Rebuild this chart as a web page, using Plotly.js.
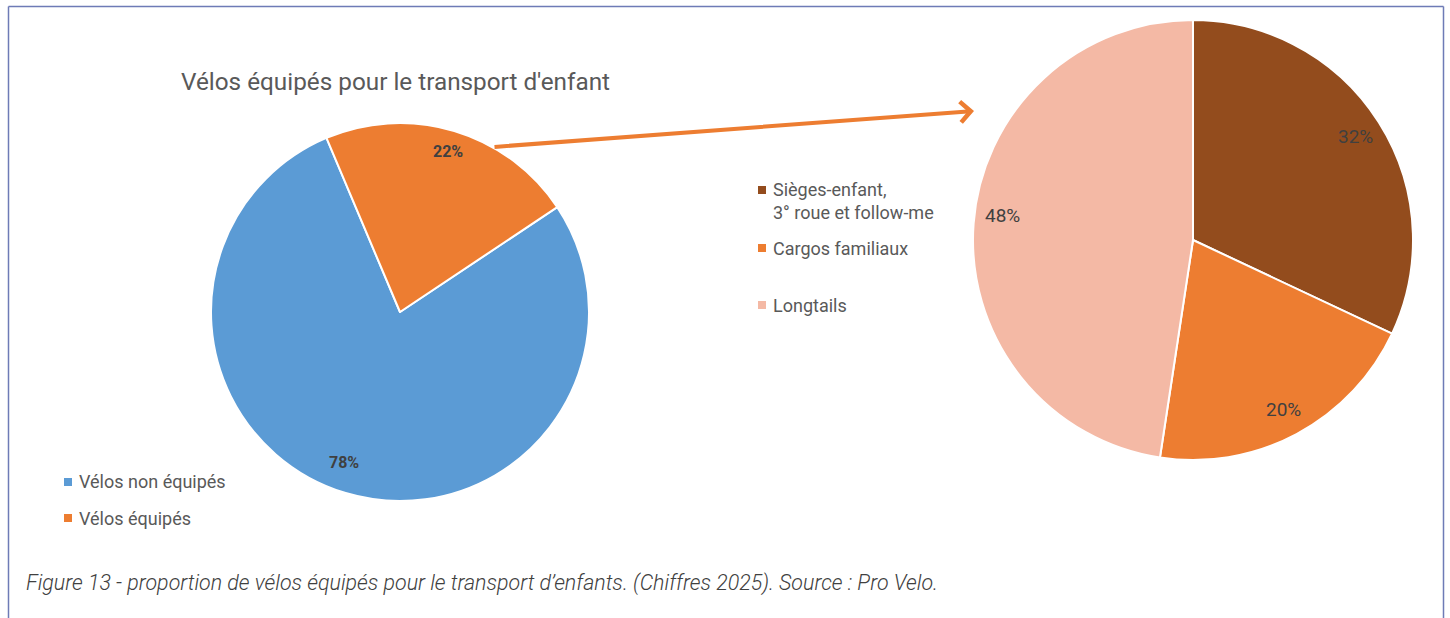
<!DOCTYPE html>
<html>
<head>
<meta charset="utf-8">
<script src="https://cdn.plot.ly/plotly-3.0.1.min.js"></script>
<style>html,body{margin:0;padding:0;background:#fff}#chart{width:1450px;height:618px}</style>
</head>
<body>
<div id="chart"></div>
<script>
// ---- data ----
const chartTitle = "Vélos équipés pour le transport d'enfant";
const caption = "Figure 13 - proportion de vélos équipés pour le transport d’enfants. (Chiffres 2025). Source : Pro Velo.";
const mainLabels = ['Vélos non équipés', 'Vélos équipés'];
const mainValues = [78, 22];
const mainColors = ['#5B9BD5', '#ED7D31'];
const subLabels = ['Sièges-enfant,<br>3° roue et follow-me', 'Cargos familiaux', 'Longtails'];
const subValues = [32, 20.4, 47.6];
const subColors = ['#934C1D', '#ED7D31', '#F4B9A5'];

// ---- layout helpers ----
const W = 1450, H = 618;
const px = x => x / W;
const py = y => 1 - y / H;

const mainPie = {cx: 400, cy: 312, r: 189, rotation: 56.3};
const subPie = {cx: 1193, cy: 240, r: 220, rotation: 0};

function domainOf(p) {
  return {x: [px(p.cx - p.r), px(p.cx + p.r)], y: [py(p.cy + p.r), py(p.cy - p.r)]};
}

const traces = [
  {
    type: 'pie', values: mainValues, labels: mainLabels, sort: false, direction: 'clockwise',
    rotation: mainPie.rotation, domain: domainOf(mainPie),
    marker: {colors: mainColors, line: {color: '#ffffff', width: 2}},
    textinfo: 'none', showlegend: false, hoverinfo: 'label+percent'
  },
  {
    type: 'pie', values: subValues, labels: subLabels, sort: false, direction: 'clockwise',
    rotation: subPie.rotation, domain: domainOf(subPie),
    marker: {colors: subColors, line: {color: '#ffffff', width: 2}},
    textinfo: 'none', showlegend: false, hoverinfo: 'label+percent'
  }
];

// percentage labels placed along each slice's mid-angle
function sliceLabels(values, pie, fracs, font, angShift) {
  const tot = values.reduce((a, b) => a + b, 0);
  let ang = pie.rotation;
  return values.map((v, i) => {
    const span = v / tot * 360;
    const mid = (ang + span / 2 + angShift[i]) * Math.PI / 180;
    ang += span;
    const x = pie.cx + fracs[i] * pie.r * Math.sin(mid);
    const y = pie.cy - fracs[i] * pie.r * Math.cos(mid);
    return {xref: 'paper', yref: 'paper', x: px(x), y: py(y), xanchor: 'center', yanchor: 'middle',
      text: Math.round(v / tot * 100) + '%', showarrow: false, font: font};
  });
}

const annotations = [];
annotations.push(...sliceLabels(mainValues, mainPie, [0.85, 0.885],
  {family: 'Roboto, sans-serif', size: 16, color: '#404040', weight: 700}, [3.6, 0]));
annotations.push(...sliceLabels(subValues, subPie, [0.875, 0.875, 0.875],
  {family: 'Roboto, sans-serif', size: 19, color: '#404040'}, [0, 0, 3]));

// title
annotations.push({xref: 'paper', yref: 'paper', x: px(179), y: py(82), xanchor: 'left', yanchor: 'middle',
  text: chartTitle, showarrow: false, font: {family: 'Roboto, sans-serif', size: 24.3, color: '#595959'}});

// caption
annotations.push({xref: 'paper', yref: 'paper', x: px(24), y: py(583), xanchor: 'left', yanchor: 'middle',
  text: '<i>' + caption + '</i>', showarrow: false,
  font: {family: 'Roboto, sans-serif', size: 21.4, color: '#404040', weight: 300}});

// arrow from the small slice to the detail pie
annotations.push({xref: 'paper', yref: 'paper', x: px(974), y: py(111), ax: 493 - 974, ay: 147 - 111,
  axref: 'pixel', ayref: 'pixel', text: '', showarrow: true, arrowhead: 4, arrowsize: 1, arrowwidth: 4,
  arrowcolor: '#ED7D31'});

// legends
const shapes = [];
function legend(labels, colors, markerX, ys, markerYs) {
  labels.forEach((lab, i) => {
    annotations.push({xref: 'paper', yref: 'paper', x: px(markerX + 9), y: py(ys[i]), xanchor: 'left',
      yanchor: 'middle', align: 'left', text: lab, showarrow: false,
      font: {family: 'Roboto, sans-serif', size: 18, color: '#595959'}});
    const my = markerYs[i];
    shapes.push({type: 'rect', xref: 'paper', yref: 'paper', x0: px(markerX - 4), x1: px(markerX + 4),
      y0: py(my + 4), y1: py(my - 4), fillcolor: colors[i], line: {width: 0}});
  });
}
legend(mainLabels, mainColors, 68, [482, 518], [482, 518]);
legend(subLabels, subColors, 762, [201, 248, 305], [190, 248, 305]);

// frame
const frameColor = '#6E7BB6';
shapes.push({type: 'line', xref: 'paper', yref: 'paper', x0: px(8.5), x1: px(8.5), y0: 0, y1: py(6.5), line: {color: frameColor, width: 1.5}});
shapes.push({type: 'line', xref: 'paper', yref: 'paper', x0: px(8.5), x1: px(1443.5), y0: py(6.5), y1: py(6.5), line: {color: frameColor, width: 1.5}});
shapes.push({type: 'line', xref: 'paper', yref: 'paper', x0: px(1443.5), x1: px(1443.5), y0: 0, y1: py(6.5), line: {color: frameColor, width: 1.5}});

const layout = {
  width: W, height: H, margin: {l: 0, r: 0, t: 0, b: 0, pad: 0},
  paper_bgcolor: '#ffffff', plot_bgcolor: '#ffffff', showlegend: false,
  font: {family: 'Roboto, sans-serif', color: '#595959'},
  annotations: annotations, shapes: shapes
};

Plotly.newPlot('chart', traces, layout, {staticPlot: true, displayModeBar: false});
</script>
</body>
</html>
